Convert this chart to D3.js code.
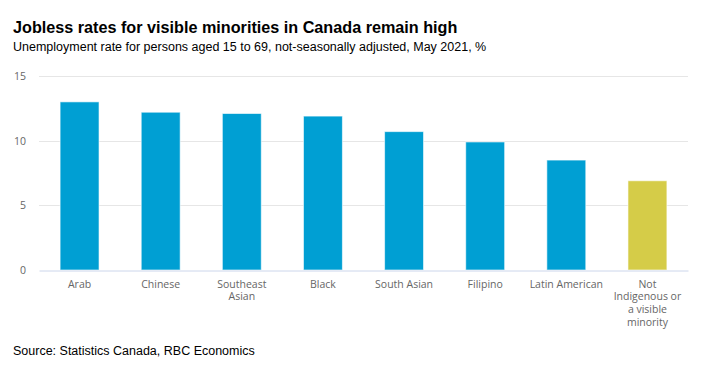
<!DOCTYPE html>
<html>
<head>
<meta charset="utf-8">
<script src="https://cdn.jsdelivr.net/npm/d3@7"></script>
<style>
  body { margin: 0; background: #fff; }
  svg { display: block; }
</style>
</head>
<body>
<svg id="chart"></svg>
<script>
// Data
const categories = ["Arab", "Chinese", "Southeast\nAsian", "Black", "South Asian", "Filipino", "Latin American", "Not\nIndigenous or\na visible\nminority"];
const rates = [13.0, 12.2, 12.1, 11.9, 10.7, 9.9, 8.5, 6.9];
const barColors = ["#009fd3", "#009fd3", "#009fd3", "#009fd3", "#009fd3", "#009fd3", "#009fd3", "#d5cc48"];
const yTicks = [0, 5, 10, 15];

const width = 710, height = 386;
const margin = { top: 76, right: 22, bottom: 116, left: 39 };

const svg = d3.select("#chart").attr("width", width).attr("height", height);

// Titles
svg.append("text")
    .attr("x", 13).attr("y", 33)
    .style("font-family", "'Liberation Sans', Arial, sans-serif")
    .style("font-size", "16.2px").style("font-weight", "bold")
    .attr("fill", "#000")
    .text("Jobless rates for visible minorities in Canada remain high");

svg.append("text")
    .attr("x", 13).attr("y", 50.5)
    .style("font-family", "'Liberation Sans', Arial, sans-serif")
    .style("font-size", "12.5px")
    .attr("fill", "#000")
    .text("Unemployment rate for persons aged 15 to 69, not-seasonally adjusted, May 2021, %");

// Scales
const x = d3.scaleBand()
    .domain(categories)
    .range([margin.left, width - margin.right])
    .paddingInner(0.52)
    .paddingOuter(0.26);

const y = d3.scaleLinear()
    .domain([0, 15])
    .range([height - margin.bottom, margin.top]);

// Gridlines
svg.append("g")
    .selectAll("line")
    .data(yTicks.filter(d => d > 0))
    .join("line")
    .attr("x1", margin.left).attr("x2", width - margin.right)
    .attr("y1", d => Math.round(y(d)) + 0.5).attr("y2", d => Math.round(y(d)) + 0.5)
    .attr("stroke", "#e6e6e6");

// Y axis labels
const yAxis = svg.append("g")
    .attr("transform", `translate(${margin.left},0)`)
    .call(d3.axisLeft(y).tickValues(yTicks).tickSize(0).tickPadding(13));
yAxis.select(".domain").remove();
yAxis.selectAll("text")
    .style("font-family", "'Open Sans', sans-serif")
    .style("font-size", "10.5px")
    .attr("fill", "#666");

// Bars
svg.append("g")
    .selectAll("rect")
    .data(rates)
    .join("rect")
    .attr("x", (d, i) => x(categories[i]))
    .attr("y", d => y(d))
    .attr("width", x.bandwidth())
    .attr("height", d => y(0) - y(d))
    .attr("fill", (d, i) => barColors[i])
    .attr("stroke", "#ffffff")
    .attr("stroke-opacity", 0.6)
    .attr("stroke-width", 1);

// X axis
const xAxis = svg.append("g")
    .attr("transform", `translate(0,${Math.round(y(0)) + 0.5})`)
    .call(d3.axisBottom(x).tickSize(0).tickFormat(""));
xAxis.select(".domain").attr("stroke", "#ccd6eb");

xAxis.selectAll(".tick text").remove();
xAxis.selectAll(".tick")
    .append("text")
    .attr("text-anchor", "middle")
    .style("font-family", "'Open Sans', sans-serif")
    .style("font-size", "10.5px")
    .attr("fill", "#666")
    .selectAll("tspan")
    .data(d => d.split("\n"))
    .join("tspan")
    .attr("x", 0)
    .attr("y", (d, i) => 17 + i * 12.7)
    .text(d => d);

// Source
svg.append("text")
    .attr("x", 13).attr("y", 355)
    .style("font-family", "'Liberation Sans', Arial, sans-serif")
    .style("font-size", "12.5px")
    .attr("fill", "#000")
    .text("Source: Statistics Canada, RBC Economics");
</script>
</body>
</html>
